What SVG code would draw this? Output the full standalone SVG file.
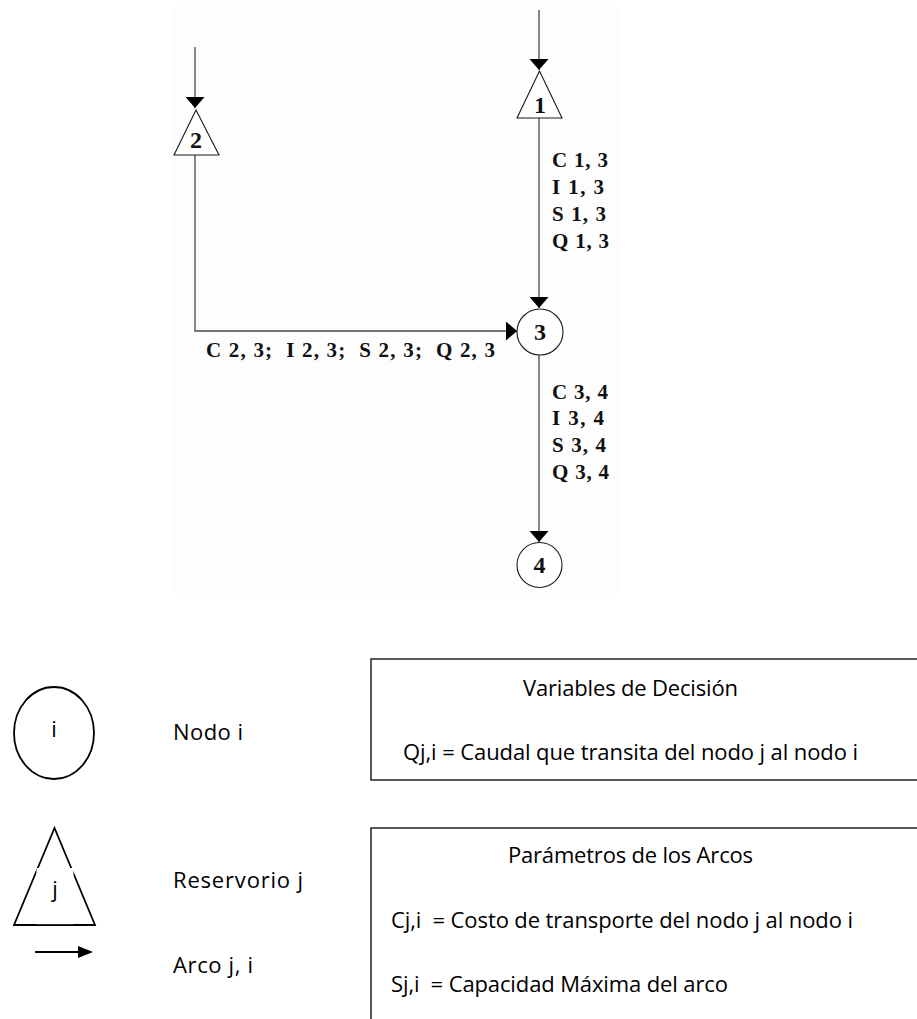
<svg xmlns="http://www.w3.org/2000/svg" width="917" height="1019" viewBox="0 0 917 1019">
  <style>
    .bg { fill: #fdfdfd; }
    .edge { fill: none; stroke: #4a4a4a; stroke-width: 1.3; }
    .shape { fill: #ffffff; stroke: #1a1a1a; stroke-width: 1.1; }
    .num { font-family: "Liberation Serif", "Times New Roman", serif; font-weight: bold; font-size: 24px; fill: #111; text-anchor: middle; }
    .lbl { font-family: "Liberation Serif", "Times New Roman", serif; font-weight: bold; font-size: 21px; fill: #111; }
    .key { fill: #ffffff; stroke: #000; stroke-width: 1.8; }
    .txt { font-family: "Open Sans", "Noto Sans", sans-serif; font-size: 22px; fill: #000; }
    .box { fill: none; stroke: #222; stroke-width: 1.5; }
  </style>
  <defs>
    <marker id="head" markerUnits="userSpaceOnUse" viewBox="0 0 11 19" markerWidth="11" markerHeight="19" refX="11" refY="9.5" orient="auto">
      <path d="M0,0 L11,9.5 L0,19 Z" fill="#000"/>
    </marker>
  </defs>

  <rect class="bg" x="171" y="7" width="450" height="586"/>

  <!-- connectors -->
  <g id="connectors">
    <path class="edge" d="M539,10 V70" marker-end="url(#head)"/>
    <path class="edge" d="M195,47 V108" marker-end="url(#head)"/>
    <path class="edge" d="M539,118 V308" marker-end="url(#head)"/>
    <path class="edge" d="M195,155 V331 H517" marker-end="url(#head)"/>
    <path class="edge" d="M539,355 V542" marker-end="url(#head)"/>
    <text class="lbl" x="552" y="167" textLength="56">C 1, 3</text>
    <text class="lbl" x="552" y="194" textLength="52">I 1, 3</text>
    <text class="lbl" x="552" y="221" textLength="54">S 1, 3</text>
    <text class="lbl" x="552" y="248" textLength="57">Q 1, 3</text>
    <text class="lbl" x="206" y="357" textLength="289" xml:space="preserve">C 2, 3;  I 2, 3;  S 2, 3;  Q 2, 3</text>
    <text class="lbl" x="552" y="399" textLength="56">C 3, 4</text>
    <text class="lbl" x="552" y="425" textLength="52">I 3, 4</text>
    <text class="lbl" x="552" y="452" textLength="54">S 3, 4</text>
    <text class="lbl" x="552" y="479" textLength="57">Q 3, 4</text>
  </g>

  <!-- reservoirs and nodes -->
  <g id="reservoir-1">
    <polygon class="shape" points="539.5,71 517,118 562,118"/>
    <text class="num" x="540" y="113">1</text>
  </g>
  <g id="reservoir-2">
    <polygon class="shape" points="196,110 174,155 219,155"/>
    <text class="num" x="196" y="148">2</text>
  </g>
  <g id="node-3">
    <circle class="shape" cx="540" cy="332" r="23"/>
    <text class="num" x="540" y="340">3</text>
  </g>
  <g id="node-4">
    <circle class="shape" cx="539.5" cy="565" r="22.5"/>
    <text class="num" x="539.5" y="573">4</text>
  </g>

  <!-- key: symbols -->
  <g id="key-node">
    <ellipse class="key" cx="54" cy="733" rx="40" ry="46"/>
    <text class="txt" x="54" y="737" text-anchor="middle">i</text>
    <text class="txt" x="173" y="740" textLength="70">Nodo i</text>
  </g>
  <g id="key-reservoir">
    <polygon class="key" points="54.5,828 14,925 95,925"/>
    <rect x="36.5" y="868" width="37" height="56.2" fill="#ffffff"/>
    <text class="txt" x="55" y="897" text-anchor="middle">j</text>
    <text class="txt" x="173" y="888" textLength="130">Reservorio j</text>
  </g>
  <g id="key-arc">
    <line x1="35" y1="952" x2="80" y2="952" stroke="#000" stroke-width="2"/>
    <polygon points="78,946 93,952 78,958" fill="#000"/>
    <text class="txt" x="173" y="973" textLength="80">Arco j, i</text>
  </g>

  <!-- key: definitions -->
  <g id="decision-variables">
    <path class="box" d="M920,659 H371 V780 H920"/>
    <text class="txt" x="630.5" y="696" text-anchor="middle" textLength="215">Variables de Decisión</text>
    <text class="txt" x="403" y="760" textLength="455">Qj,i = Caudal que transita del nodo j al nodo i</text>
  </g>
  <g id="arc-parameters">
    <path class="box" d="M920,828 H371 V1025"/>
    <text class="txt" x="630.5" y="863" text-anchor="middle" textLength="245">Parámetros de los Arcos</text>
    <text class="txt" x="391" y="928" textLength="462" xml:space="preserve">Cj,i  = Costo de transporte del nodo j al nodo i</text>
    <text class="txt" x="391" y="992" textLength="337" xml:space="preserve">Sj,i  = Capacidad Máxima del arco</text>
  </g>
</svg>
